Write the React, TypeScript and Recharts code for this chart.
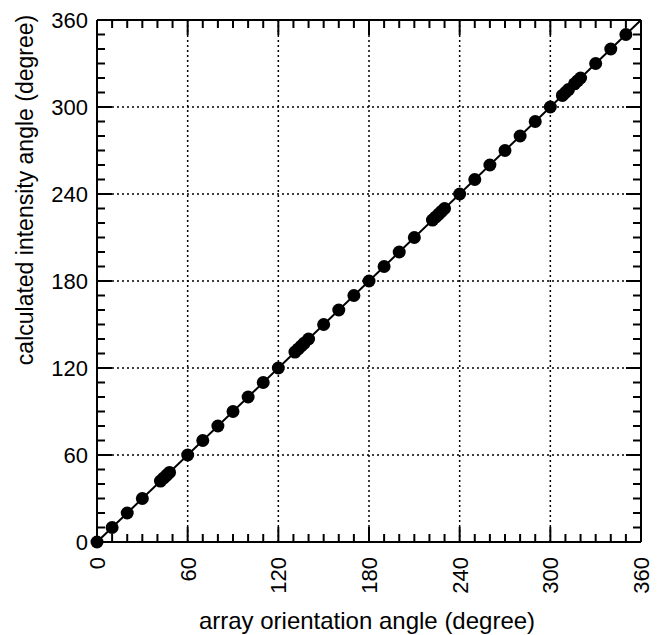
import React from "react";
import { ScatterChart, Scatter, XAxis, YAxis, ReferenceLine, Label } from "recharts";

const orientationAngles = [0, 10, 20, 30, 42, 44, 46, 48, 60, 70, 80, 90, 100, 110, 120, 131, 133, 135, 137, 140, 150, 160, 170, 180, 190, 200, 210, 222, 224, 226, 228, 230, 240, 250, 260, 270, 280, 290, 300, 308, 310, 312, 316, 318, 320, 330, 340, 350];
const intensityAngles = [0, 10, 20, 30, 42, 44, 46, 48, 60, 70, 80, 90, 100, 110, 120, 131, 133, 135, 137, 140, 150, 160, 170, 180, 190, 200, 210, 222, 224, 226, 228, 230, 240, 250, 260, 270, 280, 290, 300, 308, 310, 312, 316, 318, 320, 330, 340, 350];
const tickValues = [0, 10, 20, 30, 40, 50, 60, 70, 80, 90, 100, 110, 120, 130, 140, 150, 160, 170, 180, 190, 200, 210, 220, 230, 240, 250, 260, 270, 280, 290, 300, 310, 320, 330, 340, 350, 360];
const tickLabels = [0, 60, 120, 180, 240, 300, 360];
const gridValues = [60, 120, 180, 240, 300];
const fitLine = [{ x: 0, y: 0 }, { x: 360, y: 360 }];

const data = orientationAngles.map((x, i) => ({ x, y: intensityAngles[i] }));

const FONT = "Liberation Sans, Arial, sans-serif";

const isMajor = (v: number) => tickLabels.indexOf(v) >= 0;
const lenOf = (v: number) => (isMajor(v) ? 15 : 8);

// vertical reference line used only to draw the inward tick marks on bottom & top axes
const vTickShape = (v: number) => (p: any) => {
  const x = p.x1;
  const top = Math.min(p.y1, p.y2);
  const bot = Math.max(p.y1, p.y2);
  const L = lenOf(v);
  return (
    <g>
      <line x1={x} y1={bot} x2={x} y2={bot - L} stroke="#000" strokeWidth={2} />
      <line x1={x} y1={top} x2={x} y2={top + L} stroke="#000" strokeWidth={2} />
    </g>
  );
};

// horizontal reference line used only to draw the inward tick marks on left & right axes
const hTickShape = (v: number) => (p: any) => {
  const y = p.y1;
  const left = Math.min(p.x1, p.x2);
  const right = Math.max(p.x1, p.x2);
  const L = lenOf(v);
  return (
    <g>
      <line x1={left} y1={y} x2={left + L} y2={y} stroke="#000" strokeWidth={2} />
      <line x1={right} y1={y} x2={right - L} y2={y} stroke="#000" strokeWidth={2} />
    </g>
  );
};

const renderBottomTick = (props: any) => {
  const { x, y, payload } = props;
  const v = payload.value;
  return (
    <g key={`b${v}`}>
      {isMajor(v) ? (
        <text
          x={x}
          y={y + 15}
          transform={`rotate(-90, ${x}, ${y + 15})`}
          textAnchor="end"
          dy="0.36em"
          fontSize={22}
          fontFamily={FONT}
          fill="#000"
        >
          {String(v)}
        </text>
      ) : null}
    </g>
  );
};

const renderLeftTick = (props: any) => {
  const { x, y, payload } = props;
  const v = payload.value;
  return (
    <g key={`l${v}`}>
      {isMajor(v) ? (
        <text x={x - 9} y={y} textAnchor="end" dy="0.36em" fontSize={22} fontFamily={FONT} fill="#000">
          {String(v)}
        </text>
      ) : null}
    </g>
  );
};

export default function App() {
  return (
    <div style={{ position: "absolute", left: 0, top: 0, background: "#fff" }}>
      <ScatterChart width={662} height={635} margin={{ top: 19, right: 20, bottom: 0, left: 0 }}>
        {gridValues.map((g) => (
          <ReferenceLine key={`v${g}`} x={g} xAxisId="b" yAxisId="l" stroke="#000" strokeWidth={1.5} strokeDasharray="2 3" />
        ))}
        {gridValues.map((g) => (
          <ReferenceLine key={`h${g}`} y={g} xAxisId="b" yAxisId="l" stroke="#000" strokeWidth={1.5} strokeDasharray="2 3" />
        ))}
        {tickValues.map((v) => (
          <ReferenceLine key={`vt${v}`} x={v} xAxisId="b" yAxisId="l" shape={vTickShape(v)} />
        ))}
        {tickValues.map((v) => (
          <ReferenceLine key={`ht${v}`} y={v} xAxisId="b" yAxisId="l" shape={hTickShape(v)} />
        ))}
        <ReferenceLine segment={fitLine} xAxisId="b" yAxisId="l" stroke="#000" strokeWidth={2} />
        <Scatter
          data={data}
          xAxisId="b"
          yAxisId="l"
          fill="#000"
          isAnimationActive={false}
          shape={(p: any) => <circle cx={p.cx} cy={p.cy} r={6.5} fill="#000" />}
        />
        <XAxis
          xAxisId="b"
          dataKey="x"
          type="number"
          domain={[0, 360]}
          ticks={tickValues}
          interval={0}
          height={93}
          tickSize={0}
          tickMargin={0}
          tickLine={false}
          axisLine={{ stroke: "#000", strokeWidth: 2 }}
          tick={renderBottomTick}
        >
          <Label
            content={() => (
              <text x={367} y={629} textAnchor="middle" fontSize={24} fontFamily={FONT} fill="#000">
                array orientation angle (degree)
              </text>
            )}
          />
        </XAxis>
        <XAxis
          xAxisId="t"
          type="number"
          domain={[0, 360]}
          ticks={tickValues}
          orientation="top"
          height={1}
          tick={false}
          tickLine={false}
          axisLine={{ stroke: "#000", strokeWidth: 2 }}
        />
        <YAxis
          yAxisId="l"
          dataKey="y"
          type="number"
          domain={[0, 360]}
          ticks={tickValues}
          interval={0}
          width={97}
          tickSize={0}
          tickMargin={0}
          tickLine={false}
          axisLine={{ stroke: "#000", strokeWidth: 2 }}
          tick={renderLeftTick}
        >
          <Label
            content={() => (
              <text
                x={33}
                y={190}
                transform="rotate(-90, 33, 190)"
                textAnchor="middle"
                fontSize={23}
                fontFamily={FONT}
                fill="#000"
              >
                calculated intensity angle (degree)
              </text>
            )}
          />
        </YAxis>
        <YAxis
          yAxisId="r"
          type="number"
          domain={[0, 360]}
          ticks={tickValues}
          orientation="right"
          width={1}
          tick={false}
          tickLine={false}
          axisLine={{ stroke: "#000", strokeWidth: 2 }}
        />
      </ScatterChart>
    </div>
  );
}
